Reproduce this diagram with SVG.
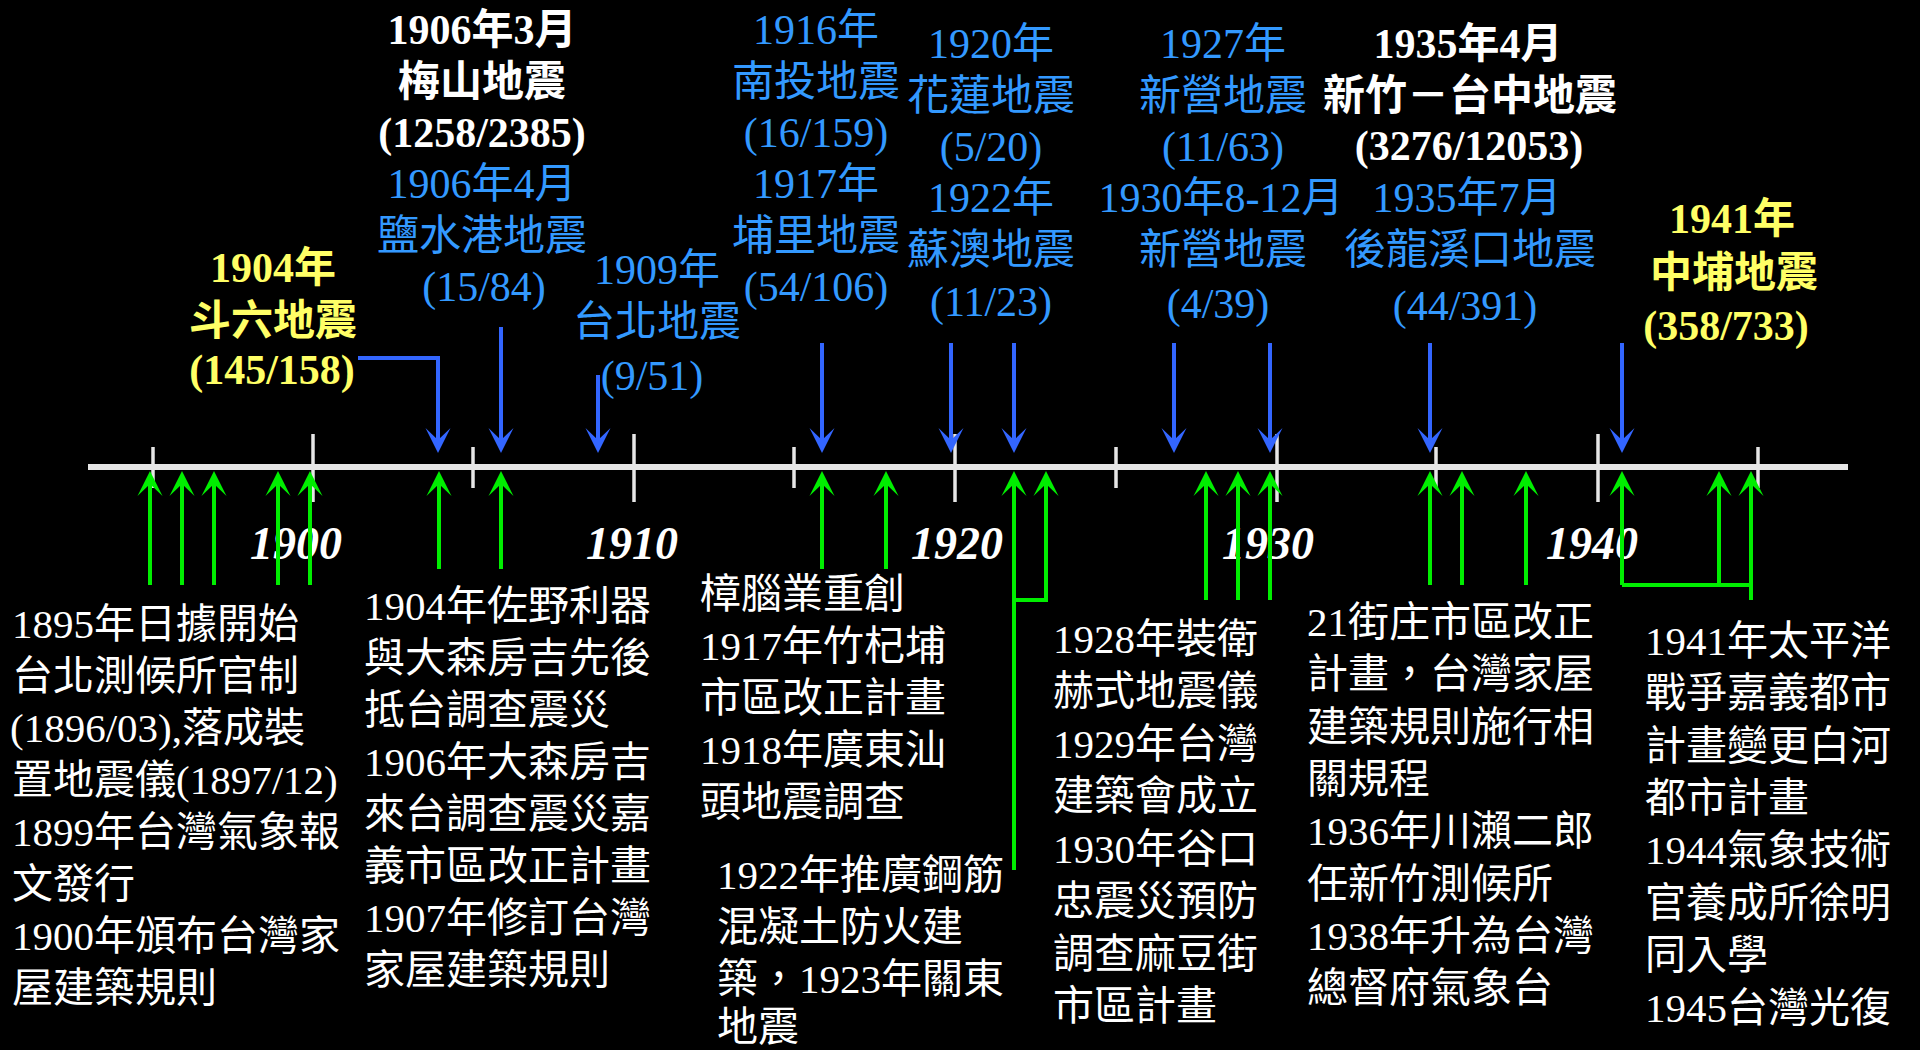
<svg xmlns="http://www.w3.org/2000/svg" width="1920" height="1050" viewBox="0 0 1920 1050">
<defs>
<style>
.hd{font-family:"Liberation Serif","Noto Sans CJK TC",serif;font-size:42px;text-anchor:middle}
.b{font-weight:bold}
.w{fill:#FFFFFF}
.bl{fill:#3399FF}
.y{fill:#FFFF66}
.bt{font-family:"Liberation Serif","Noto Sans CJK TC",serif;font-size:41px;fill:#FFFFFF}
.dec{font-family:"Liberation Serif",serif;font-size:46px;font-weight:bold;font-style:italic;fill:#FFFFFF;text-anchor:middle}
.axis{stroke:#E6E6E6;stroke-width:6;fill:none}
.tick{stroke:#E6E6E6;stroke-width:3.5;fill:none}
.g{stroke:#00EE00;stroke-width:4;fill:none}
.ga{marker-end:url(#ag)}
.bb{stroke:#3366FF;stroke-width:4;fill:none;marker-end:url(#ab)}
</style>
<marker id="ag" markerUnits="userSpaceOnUse" viewBox="-14 -14 28 28" markerWidth="28" markerHeight="28" refX="0" refY="0" orient="auto" overflow="visible">
<path d="M13,0 L-12,-12.5 L0,0 L-12,12.5 Z" fill="#00EE00"/>
</marker>
<marker id="ab" markerUnits="userSpaceOnUse" viewBox="-14 -14 28 28" markerWidth="28" markerHeight="28" refX="0" refY="0" orient="auto" overflow="visible">
<path d="M13,0 L-12,-12.5 L0,0 L-12,12.5 Z" fill="#3366FF"/>
</marker>
</defs>
<rect x="0" y="0" width="1920" height="1050" fill="#000000"/>

<g id="timeline">
<line class="axis" x1="88" y1="467" x2="1848" y2="467"/>
<line class="tick" x1="153" y1="447" x2="153" y2="488"/>
<line class="tick" x1="313" y1="434" x2="313" y2="502"/>
<line class="tick" x1="473" y1="447" x2="473" y2="488"/>
<line class="tick" x1="634" y1="434" x2="634" y2="502"/>
<line class="tick" x1="794" y1="447" x2="794" y2="488"/>
<line class="tick" x1="955" y1="434" x2="955" y2="502"/>
<line class="tick" x1="1116" y1="447" x2="1116" y2="488"/>
<line class="tick" x1="1277" y1="434" x2="1277" y2="502"/>
<line class="tick" x1="1436" y1="447" x2="1436" y2="488"/>
<line class="tick" x1="1598" y1="434" x2="1598" y2="502"/>
<line class="tick" x1="1758" y1="447" x2="1758" y2="488"/>
<text class="dec" x="296" y="559">1900</text>
<text class="dec" x="632" y="559">1910</text>
<text class="dec" x="957" y="559">1920</text>
<text class="dec" x="1268" y="559">1930</text>
<text class="dec" x="1592" y="559">1940</text>
</g>

<g id="eq-1904-douliu">
<text class="hd b y" x="273" y="282">1904年</text>
<text class="hd b y" x="273" y="335">斗六地震</text>
<text class="hd b y" x="272" y="384">(145/158)</text>
</g>
<g id="eq-1906-meishan">
<text class="hd b w" x="482" y="44">1906年3月</text>
<text class="hd b w" x="482" y="96">梅山地震</text>
<text class="hd b w" x="482" y="147">(1258/2385)</text>
<text class="hd bl" x="482" y="198">1906年4月</text>
<text class="hd bl" x="482" y="250">鹽水港地震</text>
<text class="hd bl" x="484" y="301">(15/84)</text>
</g>
<g id="eq-1909-taipei">
<text class="hd bl" x="657" y="284">1909年</text>
<text class="hd bl" x="657" y="336">台北地震</text>
<text class="hd bl" x="652" y="390">(9/51)</text>
</g>
<g id="eq-1916-1917">
<text class="hd bl" x="816" y="44">1916年</text>
<text class="hd bl" x="816" y="96">南投地震</text>
<text class="hd bl" x="816" y="147">(16/159)</text>
<text class="hd bl" x="816" y="198">1917年</text>
<text class="hd bl" x="816" y="250">埔里地震</text>
<text class="hd bl" x="816" y="301">(54/106)</text>
</g>
<g id="eq-1920-1922">
<text class="hd bl" x="991" y="58">1920年</text>
<text class="hd bl" x="991" y="110">花蓮地震</text>
<text class="hd bl" x="991" y="161">(5/20)</text>
<text class="hd bl" x="991" y="212">1922年</text>
<text class="hd bl" x="991" y="264">蘇澳地震</text>
<text class="hd bl" x="991" y="316">(11/23)</text>
</g>
<g id="eq-1927-1930">
<text class="hd bl" x="1223" y="58">1927年</text>
<text class="hd bl" x="1223" y="110">新營地震</text>
<text class="hd bl" x="1223" y="161">(11/63)</text>
<text class="hd bl" x="1221" y="212">1930年8-12月</text>
<text class="hd bl" x="1223" y="264">新營地震</text>
<text class="hd bl" x="1218" y="318">(4/39)</text>
</g>
<g id="eq-1935">
<text class="hd b w" x="1468" y="58">1935年4月</text>
<text class="hd b w" x="1470" y="110">新竹－台中地震</text>
<text class="hd b w" x="1469" y="160">(3276/12053)</text>
<text class="hd bl" x="1467" y="212">1935年7月</text>
<text class="hd bl" x="1470" y="264">後龍溪口地震</text>
<text class="hd bl" x="1465" y="320">(44/391)</text>
</g>
<g id="eq-1941-zhongpu">
<text class="hd b y" x="1732" y="233">1941年</text>
<text class="hd b y" x="1734" y="287">中埔地震</text>
<text class="hd b y" x="1726" y="340">(358/733)</text>
</g>

<g id="ev-1895">
<text class="bt" x="12" y="638">1895年日據開始</text>
<text class="bt" x="12" y="690">台北測候所官制</text>
<text class="bt" x="10" y="742">(1896/03),落成裝</text>
<text class="bt" x="12" y="794">置地震儀(1897/12)</text>
<text class="bt" x="12" y="846">1899年台灣氣象報</text>
<text class="bt" x="12" y="898">文發行</text>
<text class="bt" x="12" y="950">1900年頒布台灣家</text>
<text class="bt" x="12" y="1002">屋建築規則</text>
</g>
<g id="ev-1904">
<text class="bt" x="364" y="620">1904年佐野利器</text>
<text class="bt" x="364" y="672">與大森房吉先後</text>
<text class="bt" x="364" y="724">抵台調查震災</text>
<text class="bt" x="364" y="776">1906年大森房吉</text>
<text class="bt" x="364" y="828">來台調查震災嘉</text>
<text class="bt" x="364" y="880">義市區改正計畫</text>
<text class="bt" x="364" y="932">1907年修訂台灣</text>
<text class="bt" x="364" y="984">家屋建築規則</text>
</g>
<g id="ev-1916">
<text class="bt" x="700" y="608">樟腦業重創</text>
<text class="bt" x="700" y="660">1917年竹杞埔</text>
<text class="bt" x="700" y="712">市區改正計畫</text>
<text class="bt" x="700" y="764">1918年廣東汕</text>
<text class="bt" x="700" y="816">頭地震調查</text>
</g>
<g id="ev-1922">
<text class="bt" x="717" y="889">1922年推廣鋼筋</text>
<text class="bt" x="717" y="941">混凝土防火建</text>
<text class="bt" x="717" y="993">築，1923年關東</text>
<text class="bt" x="717" y="1041">地震</text>
</g>
<g id="ev-1928">
<text class="bt" x="1053" y="653">1928年裝衛</text>
<text class="bt" x="1053" y="705">赫式地震儀</text>
<text class="bt" x="1053" y="758">1929年台灣</text>
<text class="bt" x="1053" y="810">建築會成立</text>
<text class="bt" x="1053" y="863">1930年谷口</text>
<text class="bt" x="1053" y="915">忠震災預防</text>
<text class="bt" x="1053" y="968">調查麻豆街</text>
<text class="bt" x="1053" y="1020">市區計畫</text>
</g>
<g id="ev-1935">
<text class="bt" x="1307" y="636">21街庄市區改正</text>
<text class="bt" x="1307" y="688">計畫，台灣家屋</text>
<text class="bt" x="1307" y="741">建築規則施行相</text>
<text class="bt" x="1307" y="793">關規程</text>
<text class="bt" x="1307" y="845">1936年川瀨二郎</text>
<text class="bt" x="1307" y="898">任新竹測候所</text>
<text class="bt" x="1307" y="950">1938年升為台灣</text>
<text class="bt" x="1307" y="1002">總督府氣象台</text>
</g>
<g id="ev-1941">
<text class="bt" x="1645" y="655">1941年太平洋</text>
<text class="bt" x="1645" y="707">戰爭嘉義都市</text>
<text class="bt" x="1645" y="760">計畫變更白河</text>
<text class="bt" x="1645" y="812">都市計畫</text>
<text class="bt" x="1645" y="864">1944氣象技術</text>
<text class="bt" x="1645" y="917">官養成所徐明</text>
<text class="bt" x="1645" y="969">同入學</text>
<text class="bt" x="1645" y="1022">1945台灣光復</text>
</g>

<g id="connectors">
<path class="bb" d="M358,358 H438 V440"/>
<path class="bb" d="M501,327 V440"/>
<path class="bb" d="M598,375 V440"/>
<path class="bb" d="M822,343 V440"/>
<path class="bb" d="M951,343 V440"/>
<path class="bb" d="M1014,343 V440"/>
<path class="bb" d="M1174,343 V440"/>
<path class="bb" d="M1270,343 V440"/>
<path class="bb" d="M1430,343 V440"/>
<path class="bb" d="M1622,343 V440"/>

<path class="g ga" d="M150,585 V484"/>
<path class="g ga" d="M182,585 V484"/>
<path class="g ga" d="M214,585 V484"/>
<path class="g ga" d="M278,585 V484"/>
<path class="g ga" d="M310,585 V484"/>
<path class="g ga" d="M439,569 V484"/>
<path class="g ga" d="M501,569 V484"/>
<path class="g ga" d="M822,569 V484"/>
<path class="g ga" d="M886,569 V484"/>
<path class="g ga" d="M1014,870 V484"/>
<path class="g ga" d="M1014,600 H1046 V484"/>
<path class="g ga" d="M1206,600 V484"/>
<path class="g ga" d="M1238,600 V484"/>
<path class="g ga" d="M1270,600 V484"/>
<path class="g ga" d="M1430,585 V484"/>
<path class="g ga" d="M1462,585 V484"/>
<path class="g ga" d="M1526,585 V484"/>
<path class="g ga" d="M1622,585 V484"/>
<path class="g ga" d="M1719,585 V484"/>
<path class="g ga" d="M1751,600 V484"/>
<path class="g" d="M1622,585 H1751"/>
</g>
</svg>
